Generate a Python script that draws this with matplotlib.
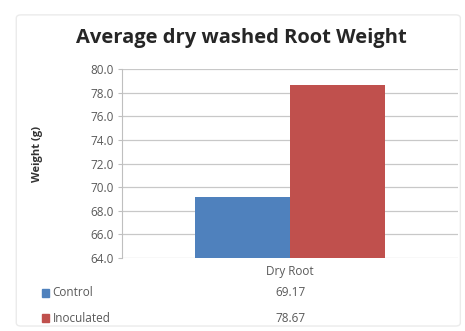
import matplotlib.pyplot as plt
from matplotlib.patches import FancyBboxPatch, Rectangle

# Average dry root weight per treatment
category = "Dry Root"
series = ["Control", "Inoculated"]
weights = [69.17, 78.67]
colors = ["#4F81BD", "#C0504D"]
yticks = [64.0, 66.0, 68.0, 70.0, 72.0, 74.0, 76.0, 78.0, 80.0]

plt.rcParams['font.family'] = ['Open Sans', 'DejaVu Sans']

fig = plt.figure(figsize=(4.65, 3.31), dpi=100)
fig.patch.set_facecolor("white")

# chart frame
frame = FancyBboxPatch((0.035, 0.015), 0.955, 0.94,
                       boxstyle="round,pad=0,rounding_size=0.01",
                       transform=fig.transFigure, fill=False,
                       edgecolor="#EBEBEB", linewidth=1.0)
fig.patches.append(frame)

ax = fig.add_axes([0.262, 0.2205, 0.723, 0.571])
width = 0.283
for i, (name, w, c) in enumerate(zip(series, weights, colors)):
    ax.bar(-width / 2 + i * width, w - yticks[0], width=width,
           bottom=yticks[0], color=c, zorder=3)

ax.set_xlim(-0.5, 0.5)
ax.set_ylim(yticks[0], yticks[-1])
ax.set_yticks(yticks)
ax.set_yticklabels([f"{t:.1f}" for t in yticks], fontsize=8.5, color="#595959")
ax.tick_params(axis="y", length=3, color="#BFBFBF", pad=3)
ax.set_xticks([])
ax.grid(axis="y", color="#C8C8C8", linewidth=0.9, zorder=0)
for side in ["top", "right", "bottom"]:
    ax.spines[side].set_visible(False)
ax.spines["left"].set_color("#BFBFBF")

ax.set_ylabel("Weight (g)", fontsize=8, fontweight="bold", color="#333333",
              labelpad=0)
ax.yaxis.set_label_coords(-0.235, 0.55)

fig.text(0.52, 0.885, "Average dry washed Root Weight", ha="center",
         va="center", fontsize=14.5, fontweight="bold", color="#262626")

# data table under the plot
fig.text(0.624, 1 - 271 / 331, category, ha="center", va="center",
         fontsize=8.5, color="#595959")
rows_y = [1 - 293 / 331, 1 - 318 / 331]
for name, w, c, y in zip(series, weights, colors, rows_y):
    fig.patches.append(Rectangle((0.09, y - 0.013), 0.015, 0.026,
                                 transform=fig.transFigure, color=c))
    fig.text(0.113, y, name, ha="left", va="center", fontsize=8.5,
             color="#595959")
    fig.text(0.624, y, f"{w:.2f}", ha="center", va="center", fontsize=8.5,
             color="#595959")

fig.savefig("out.png", dpi=100)
